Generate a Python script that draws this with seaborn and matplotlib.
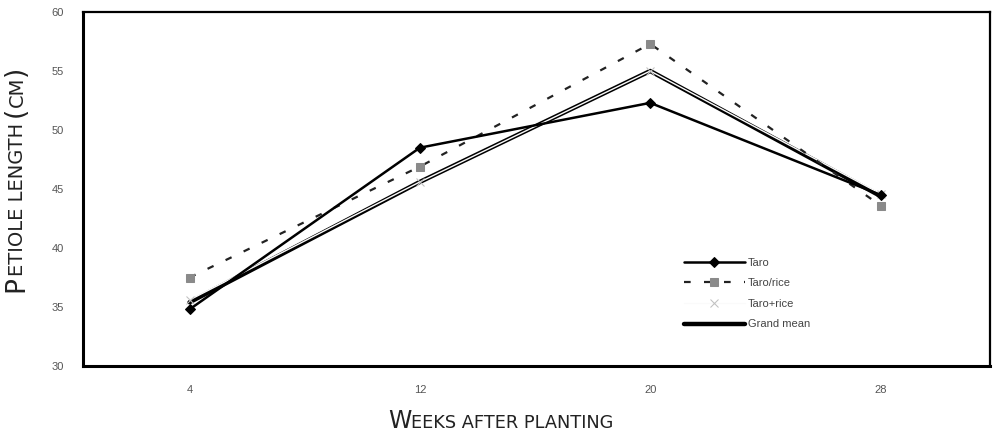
import matplotlib
matplotlib.use("Agg")
import matplotlib.pyplot as plt
import seaborn as sns

weeks = [4, 12, 20, 28]
taro = [34.8, 48.5, 52.3, 44.5]
taro_slash_rice = [37.5, 46.9, 57.3, 43.6]
taro_plus_rice = [35.6, 45.6, 55.0, 44.6]
grand_mean = [35.4, 45.6, 55.0, 44.4]

y_ticks = [30, 35, 40, 45, 50, 55, 60]

sns.set_style("white")
plt.rcParams["font.family"] = ["Liberation Sans", "DejaVu Sans"]

W, H = 995, 442
fig = plt.figure(figsize=(W / 100, H / 100), dpi=100)
ax = fig.add_axes([83 / W, 1 - 366 / H, (990 - 83) / W, (366 - 12) / H])

sns.lineplot(x=weeks, y=grand_mean, ax=ax, color="black", lw=3.2,
             label="Grand mean", zorder=2)
sns.lineplot(x=weeks, y=taro_plus_rice, ax=ax, color="#fafafa", lw=1.0,
             marker="x", markersize=6, markeredgecolor="#c0c0c0",
             label="Taro+rice", zorder=3)
sns.lineplot(x=weeks, y=taro_slash_rice, ax=ax, color="#222222", lw=1.6,
             dashes=(3, 6), marker="s", markersize=6, markerfacecolor="#8a8a8a",
             markeredgecolor="#8a8a8a", label="Taro/rice", zorder=3)
sns.lineplot(x=weeks, y=taro, ax=ax, color="black", lw=1.8,
             marker="D", markersize=5, markeredgecolor="black",
             label="Taro", zorder=4)

ax.set_xlim(0.3, 31.8)
ax.set_ylim(30, 60)
ax.set_xticks(weeks)
ax.set_xticklabels([str(w) for w in weeks])
ax.set_yticks(y_ticks)
ax.set_yticklabels([str(v) for v in y_ticks])
ax.tick_params(length=0, labelsize=8, colors="#555555", pad=14)
ax.tick_params(axis="x", pad=14)
for side, sp in ax.spines.items():
    sp.set_linewidth(2.2 if side in ("left", "bottom") else 1.6)
    sp.set_color("black")
ax.set_xlabel("")
ax.set_ylabel("")

handles, labels = ax.get_legend_handles_labels()
order = ["Taro", "Taro/rice", "Taro+rice", "Grand mean"]
hmap = dict(zip(labels, handles))
leg = ax.legend([hmap[o] for o in order], order, loc="upper left",
                bbox_to_anchor=((676 - 83) / (990 - 83), (366 - 250) / (366 - 12)),
                frameon=False, fontsize=8, handlelength=5.5, handletextpad=0.3,
                labelspacing=0.95, borderpad=0.2)
for t in leg.get_texts():
    t.set_color("#444444")

# small-caps style axis labels built from pieces
fig.canvas.draw()
renderer = fig.canvas.get_renderer()


def small_caps(pieces, x, y, rotation=0):
    pos = x if rotation == 0 else y
    for txt, size, gap in pieces:
        if rotation == 0:
            t = fig.text(pos / W, y / H, txt, fontsize=size, ha="left",
                         va="baseline", color="#222222", family="DejaVu Sans")
            ext = t.get_window_extent(renderer)
            pos += ext.width + gap
        else:
            t = fig.text(x / W, pos / H, txt, fontsize=size, ha="left",
                         va="baseline", rotation=90, rotation_mode="anchor",
                         color="#222222", family="DejaVu Sans")
            ext = t.get_window_extent(renderer)
            pos += ext.height + gap


small_caps([("W", 17, 0), ("EEKS AFTER PLANTING", 12.8, 0)], 388, 14)
small_caps([("P", 19, 0), ("ETIOLE LENGTH", 14, 6), ("(", 19, 0),
            ("CM", 14, 0), (")", 19, 0)], 23, 150, rotation=90)

fig.savefig("out.png", dpi=100)
